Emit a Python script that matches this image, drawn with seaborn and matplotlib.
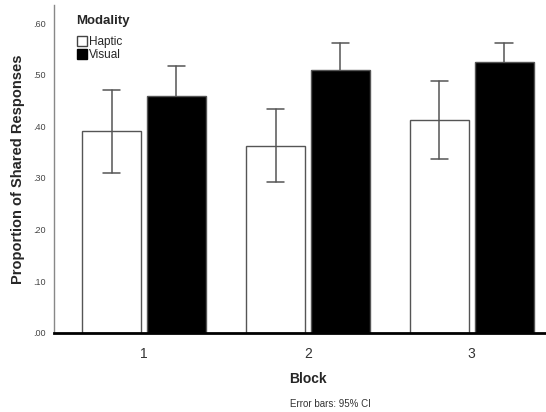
import numpy as np
import pandas as pd
import matplotlib
matplotlib.use("Agg")
import matplotlib.pyplot as plt
import seaborn as sns
from matplotlib.patches import Patch

blocks = ["1", "2", "3"]
modalities = ["Haptic", "Visual"]
haptic_mean = [0.390, 0.362, 0.413]
visual_mean = [0.458, 0.510, 0.525]
haptic_lo = [0.310, 0.293, 0.337]
haptic_hi = [0.471, 0.434, 0.488]
visual_lo = [0.399, 0.458, 0.488]
visual_hi = [0.517, 0.562, 0.562]
ytick_vals = [0.0, 0.1, 0.2, 0.3, 0.4, 0.5, 0.6]
ytick_labels = [".00", ".10", ".20", ".30", ".40", ".50", ".60"]

df = pd.DataFrame({
    "Block": blocks * 2,
    "Modality": ["Haptic"] * 3 + ["Visual"] * 3,
    "Proportion": haptic_mean + visual_mean,
    "lo": haptic_lo + visual_lo,
    "hi": haptic_hi + visual_hi,
})

sns.set_style("white")
plt.rcParams["font.family"] = ["Liberation Sans", "DejaVu Sans"]

fig = plt.figure(figsize=(5.46, 4.12), dpi=100)
ax = fig.add_axes([0.099, 0.192, 0.93, 0.796])

sns.barplot(data=df, x="Block", y="Proportion", hue="Modality",
            hue_order=modalities, order=blocks,
            palette={"Haptic": "white", "Visual": "black"},
            errorbar=None, width=0.79, gap=0.09,
            edgecolor="#555555", linewidth=1.0, ax=ax, legend=False,
            zorder=2)

# error bars from the patch centres; visual ones sit behind the black bars
for patch, (_, row) in zip(ax.patches, df.iterrows()):
    cx = patch.get_x() + patch.get_width() / 2
    z = 3 if row["Modality"] == "Haptic" else 1
    ax.plot([cx, cx], [row["lo"], row["hi"]], color="#555555", lw=1.1, zorder=z)
    for yv in (row["lo"], row["hi"]):
        ax.plot([cx - 0.053, cx + 0.053], [yv, yv], color="#555555", lw=1.1, zorder=z)

ax.set_ylim(0, 0.635)
ax.set_xlim(-0.55, 2.55)
ax.set_yticks(ytick_vals)
ax.set_yticklabels(ytick_labels, fontsize=6.5, color="#444444")
ax.tick_params(axis="both", length=0, pad=6)
ax.tick_params(axis="x", labelsize=10, colors="#333333", pad=10)

for s in ["top", "right"]:
    ax.spines[s].set_visible(False)
ax.spines["left"].set_color("#888888")
ax.spines["left"].set_linewidth(1.0)
ax.spines["bottom"].set_color("black")
ax.spines["bottom"].set_linewidth(2.0)
ax.spines["bottom"].set_zorder(4)

ax.set_xlabel("Block", fontsize=10, fontweight="bold", labelpad=8)
ax.set_ylabel("Proportion of Shared Responses", fontsize=10.5, fontweight="bold", labelpad=6)

handles = [Patch(facecolor="white", edgecolor="#444444", label="Haptic"),
           Patch(facecolor="black", edgecolor="black", label="Visual")]
leg = ax.legend(handles=handles, title="Modality", loc="upper left",
                bbox_to_anchor=(0.035, 0.985), frameon=False, fontsize=8.5,
                title_fontsize=9.5, handlelength=0.9, handleheight=0.9,
                handletextpad=0.15, labelspacing=0.05, borderaxespad=0)
leg.get_title().set_fontweight("bold")
leg._legend_box.align = "left"
leg._legend_box.sep = 7

fig.text(0.605, 0.012, "Error bars: 95% CI", fontsize=7, color="#333333", ha="center")

fig.savefig("out.png", dpi=100)
